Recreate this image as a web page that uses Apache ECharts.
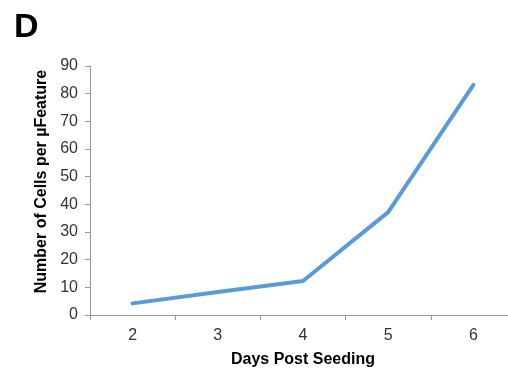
<!DOCTYPE html>
<html><head><meta charset="utf-8">
<script src="https://cdn.jsdelivr.net/npm/echarts@6/dist/echarts.min.js"></script>
<style>html,body{margin:0;padding:0;background:#fff;overflow:hidden}#c{width:508px;height:369px}</style>
</head><body><div id="c"></div>
<script>
const days = ['2','3','4','5','6'];
const cells = [4.2, 8.3, 12.3, 37.2, 83.2];
const yTicks = [0,10,20,30,40,50,60,70,80,90];

const chart = echarts.init(document.getElementById('c'), null, {renderer:'canvas'});
chart.setOption({
  animation:false,
  backgroundColor:'#fff',
  title:{text:'D',left:9,top:6,textStyle:{fontFamily:'Liberation Sans',fontWeight:'bold',fontSize:34,color:'#000'}},
  grid:{left:90,top:66,bottom:54,width:426,containLabel:false,outerBoundsMode:'none'},
  xAxis:{type:'category',data:days,boundaryGap:true,
    name:'Days Post Seeding',nameLocation:'middle',nameGap:37,
    nameTextStyle:{fontFamily:'Liberation Sans',fontWeight:'bold',fontSize:16,color:'#000'},
    axisLine:{lineStyle:{color:'#999',width:1}},
    axisTick:{show:true,length:5,lineStyle:{color:'#999'}},
    axisLabel:{fontFamily:'Liberation Sans',fontSize:16,color:'#333',margin:13}},
  yAxis:{type:'value',min:0,max:90,interval:10,
    name:'Number of Cells per µFeature',nameLocation:'middle',nameGap:31,
    nameTextStyle:{fontFamily:'Liberation Sans',fontWeight:'bold',fontSize:16,color:'#000',padding:[0,0,0,18]},
    axisLine:{show:true,lineStyle:{color:'#999',width:1}},
    axisTick:{show:true,length:5,lineStyle:{color:'#999'}},
    splitLine:{show:false},
    axisLabel:{fontFamily:'Liberation Sans',fontSize:16,color:'#333',margin:12,
      formatter:v=>yTicks.includes(v)?String(v):''}},
  series:[{type:'line',data:cells,symbol:'none',lineStyle:{color:'#5B9BD5',width:4,cap:'round',join:'round'}}]
});
</script></body></html>
